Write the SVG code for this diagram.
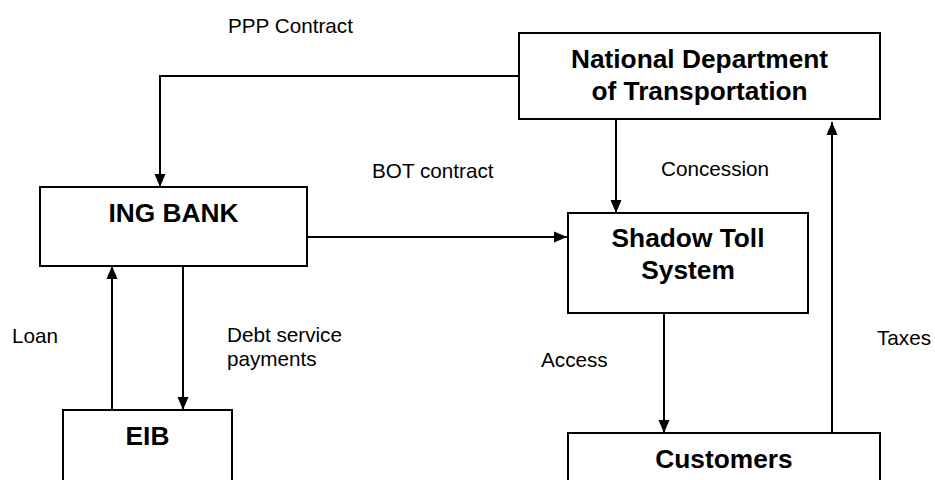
<svg xmlns="http://www.w3.org/2000/svg" width="935" height="480" viewBox="0 0 935 480">
<style>
.box{fill:#fff;stroke:#000;stroke-width:2}
.lbl{font-family:"Liberation Sans",Arial,sans-serif;font-size:20.7px;fill:#000}
.ttl{font-family:"Liberation Sans",Arial,sans-serif;font-size:26.3px;font-weight:bold;fill:#000;text-anchor:middle}
.con{fill:none;stroke:#000;stroke-width:2}
</style>
<defs>
<marker id="ah" markerUnits="userSpaceOnUse" markerWidth="14" markerHeight="12" viewBox="0 0 14 12" refX="13" refY="6" orient="auto">
<path d="M0,0.5 L13,6 L0,11.5 z" fill="#000"/>
</marker>
</defs>
<g id="connectors">
<polyline class="con" points="519,76 160,76 160,187" marker-end="url(#ah)"/>
<line class="con" x1="616" y1="119" x2="616" y2="213" marker-end="url(#ah)"/>
<line class="con" x1="832" y1="433" x2="832" y2="122" marker-end="url(#ah)"/>
<line class="con" x1="303" y1="237" x2="567" y2="237" marker-end="url(#ah)"/>
<line class="con" x1="664" y1="313" x2="664" y2="433" marker-end="url(#ah)"/>
<line class="con" x1="112" y1="410" x2="112" y2="266" marker-end="url(#ah)"/>
<line class="con" x1="183" y1="266" x2="183" y2="410" marker-end="url(#ah)"/>
</g>
<g id="labels">
<text class="lbl" x="228" y="33">PPP Contract</text>
<text class="lbl" x="372" y="178">BOT contract</text>
<text class="lbl" x="661" y="176">Concession</text>
<text class="lbl" x="12" y="343">Loan</text>
<text class="lbl" x="227" y="342">Debt service</text>
<text class="lbl" x="227" y="366">payments</text>
<text class="lbl" x="541" y="367">Access</text>
<text class="lbl" x="877" y="345">Taxes</text>
</g>
<g id="ndot">
<rect class="box" x="519" y="33" width="361" height="86"/>
<text class="ttl" x="699.5" y="68">National Department</text>
<text class="ttl" x="699.5" y="100">of Transportation</text>
</g>
<g id="ing">
<rect class="box" x="40" y="187" width="267" height="79"/>
<text class="ttl" x="173.5" y="222">ING BANK</text>
</g>
<g id="shadow">
<rect class="box" x="568" y="213" width="240" height="100"/>
<text class="ttl" x="688" y="247">Shadow Toll</text>
<text class="ttl" x="688" y="279">System</text>
</g>
<g id="eib">
<rect class="box" x="63" y="410" width="169" height="80"/>
<text class="ttl" x="147.5" y="445">EIB</text>
</g>
<g id="customers">
<rect class="box" x="568" y="433" width="312" height="60"/>
<text class="ttl" x="724" y="468">Customers</text>
</g>
</svg>
